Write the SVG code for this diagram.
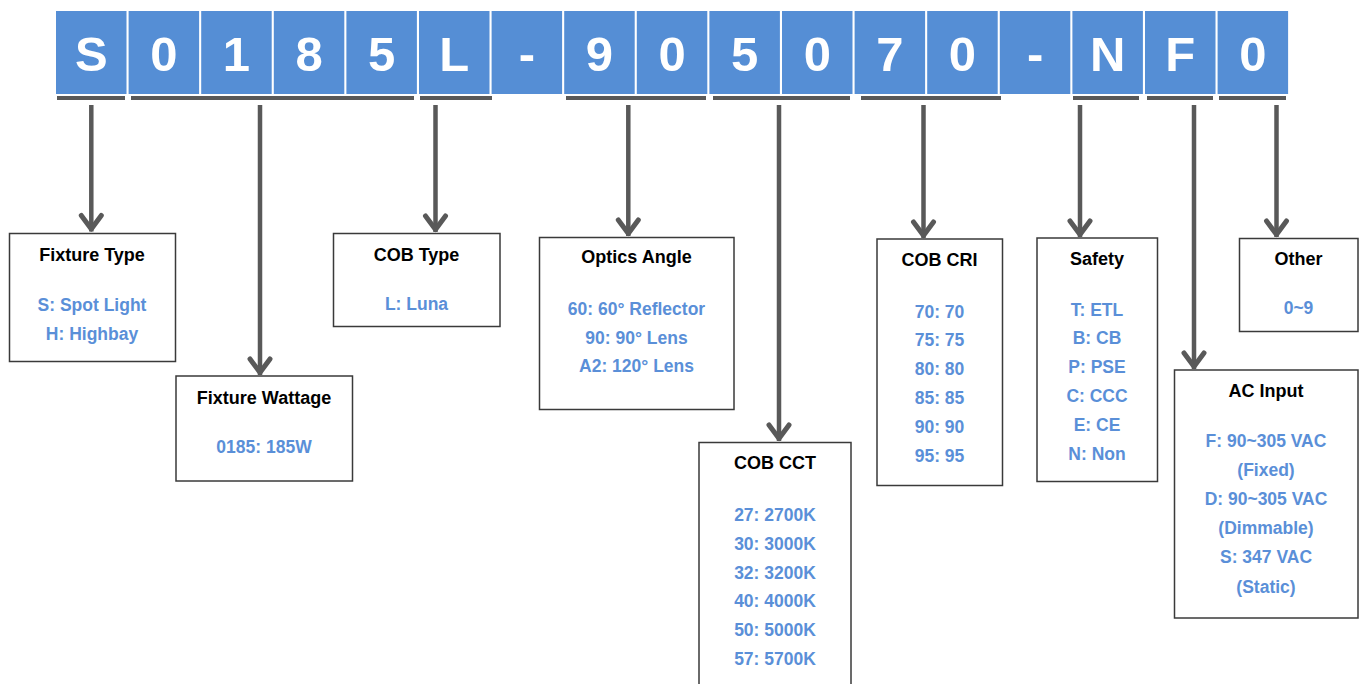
<svg xmlns="http://www.w3.org/2000/svg" width="1359" height="684" viewBox="0 0 1359 684">
<style>
.cell{fill:#558ED5}
.ct{font-family:"Liberation Sans",Arial,sans-serif;font-weight:bold;font-size:49px;fill:#fff;text-anchor:middle}
.bar{fill:#595959}
.box{fill:#fff;stroke:#3a3a3a;stroke-width:1.5}
.tt{font-family:"Liberation Sans",Arial,sans-serif;font-weight:bold;font-size:18px;fill:#000;text-anchor:middle}
.bt{font-family:"Liberation Sans",Arial,sans-serif;font-weight:bold;font-size:17.5px;fill:#5A8FD8;text-anchor:middle}
.arr{fill:none;stroke:#595959;stroke-width:4.5;marker-end:url(#ah)}
</style>
<defs>
<marker id="ah" markerUnits="userSpaceOnUse" markerWidth="30" markerHeight="30" viewBox="-20 -15 30 30" refX="0" refY="0" orient="auto" overflow="visible">
<path d="M-16,-10 L-2.5,0 L-16,10" fill="none" stroke="#595959" stroke-width="5" stroke-linejoin="round" stroke-linecap="round"/>
</marker>
</defs>
<rect width="1359" height="684" fill="#fff"/>
<g id="code">
<rect class="cell" x="56" y="11" width="70.5" height="83"/>
<rect class="cell" x="128.6" y="11" width="70.5" height="83"/>
<rect class="cell" x="201.2" y="11" width="70.5" height="83"/>
<rect class="cell" x="273.8" y="11" width="70.5" height="83"/>
<rect class="cell" x="346.4" y="11" width="70.5" height="83"/>
<rect class="cell" x="419" y="11" width="70.5" height="83"/>
<rect class="cell" x="491.6" y="11" width="70.5" height="83"/>
<rect class="cell" x="564.2" y="11" width="70.5" height="83"/>
<rect class="cell" x="636.8" y="11" width="70.5" height="83"/>
<rect class="cell" x="709.4" y="11" width="70.5" height="83"/>
<rect class="cell" x="782" y="11" width="70.5" height="83"/>
<rect class="cell" x="854.6" y="11" width="70.5" height="83"/>
<rect class="cell" x="927.2" y="11" width="70.5" height="83"/>
<rect class="cell" x="999.8" y="11" width="70.5" height="83"/>
<rect class="cell" x="1072.4" y="11" width="70.5" height="83"/>
<rect class="cell" x="1145" y="11" width="70.5" height="83"/>
<rect class="cell" x="1217.6" y="11" width="70.5" height="83"/>
<text class="ct" x="91.3" y="70.5">S</text>
<text class="ct" x="163.9" y="70.5">0</text>
<text class="ct" x="236.5" y="70.5">1</text>
<text class="ct" x="309.1" y="70.5">8</text>
<text class="ct" x="381.7" y="70.5">5</text>
<text class="ct" x="454.3" y="70.5">L</text>
<text class="ct" x="526.9" y="70.5">-</text>
<text class="ct" x="599.5" y="70.5">9</text>
<text class="ct" x="672.1" y="70.5">0</text>
<text class="ct" x="744.7" y="70.5">5</text>
<text class="ct" x="817.3" y="70.5">0</text>
<text class="ct" x="889.9" y="70.5">7</text>
<text class="ct" x="962.5" y="70.5">0</text>
<text class="ct" x="1035.1" y="70.5">-</text>
<text class="ct" x="1107.7" y="70.5">N</text>
<text class="ct" x="1180.3" y="70.5">F</text>
<text class="ct" x="1252.9" y="70.5">0</text>
</g>
<g id="brackets">
<rect class="bar" x="57" y="96" width="68" height="4"/>
<rect class="bar" x="131" y="96" width="283" height="4"/>
<rect class="bar" x="420" y="96" width="72" height="4"/>
<rect class="bar" x="566" y="96" width="140" height="4"/>
<rect class="bar" x="713" y="96" width="137" height="4"/>
<rect class="bar" x="861" y="96" width="140" height="4"/>
<rect class="bar" x="1073" y="96" width="66" height="4"/>
<rect class="bar" x="1147" y="96" width="66" height="4"/>
<rect class="bar" x="1219" y="96" width="67" height="4"/>
</g>
<g id="connectors">
<path class="arr" d="M91.3,105 V231.5"/>
<path class="arr" d="M260,105 V375"/>
<path class="arr" d="M435.5,105 V232"/>
<path class="arr" d="M628.3,105 V236"/>
<path class="arr" d="M779,105 V441"/>
<path class="arr" d="M923.5,105 V238"/>
<path class="arr" d="M1080,105 V237"/>
<path class="arr" d="M1194,105 V369"/>
<path class="arr" d="M1276.5,105 V237"/>
</g>
<g id="fixture-type">
<rect class="box" x="9.5" y="233.5" width="166" height="128"/>
<text class="tt" x="92" y="261">Fixture Type</text>
<text class="bt" x="92" y="311">S: Spot Light</text>
<text class="bt" x="92" y="339.5">H: Highbay</text>
</g>
<g id="fixture-wattage">
<rect class="box" x="176" y="376" width="176.5" height="105"/>
<text class="tt" x="264" y="403.5">Fixture Wattage</text>
<text class="bt" x="264" y="452.5">0185: 185W</text>
</g>
<g id="cob-type">
<rect class="box" x="333.5" y="233.5" width="166.5" height="93"/>
<text class="tt" x="416.5" y="261">COB Type</text>
<text class="bt" x="416.5" y="310">L: Luna</text>
</g>
<g id="optics-angle">
<rect class="box" x="539.5" y="237.5" width="194.5" height="172"/>
<text class="tt" x="636.5" y="263">Optics Angle</text>
<text class="bt" x="636.5" y="314.5">60: 60° Reflector</text>
<text class="bt" x="636.5" y="343.5">90: 90° Lens</text>
<text class="bt" x="636.5" y="372">A2: 120° Lens</text>
</g>
<g id="cob-cct">
<rect class="box" x="699" y="442.5" width="152" height="250"/>
<text class="tt" x="775" y="469">COB CCT</text>
<text class="bt" x="775" y="520.5">27: 2700K</text>
<text class="bt" x="775" y="549.5">30: 3000K</text>
<text class="bt" x="775" y="578.5">32: 3200K</text>
<text class="bt" x="775" y="607">40: 4000K</text>
<text class="bt" x="775" y="636">50: 5000K</text>
<text class="bt" x="775" y="664.5">57: 5700K</text>
</g>
<g id="cob-cri">
<rect class="box" x="877" y="239" width="125.5" height="246.5"/>
<text class="tt" x="939.5" y="266">COB CRI</text>
<text class="bt" x="939.5" y="317.5">70: 70</text>
<text class="bt" x="939.5" y="346">75: 75</text>
<text class="bt" x="939.5" y="375">80: 80</text>
<text class="bt" x="939.5" y="404">85: 85</text>
<text class="bt" x="939.5" y="433">90: 90</text>
<text class="bt" x="939.5" y="461.5">95: 95</text>
</g>
<g id="safety">
<rect class="box" x="1037" y="238" width="120.5" height="243.5"/>
<text class="tt" x="1097" y="265">Safety</text>
<text class="bt" x="1097" y="315.5">T: ETL</text>
<text class="bt" x="1097" y="344">B: CB</text>
<text class="bt" x="1097" y="373">P: PSE</text>
<text class="bt" x="1097" y="401.5">C: CCC</text>
<text class="bt" x="1097" y="430.5">E: CE</text>
<text class="bt" x="1097" y="459.5">N: Non</text>
</g>
<g id="other">
<rect class="box" x="1239.5" y="238.5" width="118.5" height="93"/>
<text class="tt" x="1298.5" y="265">Other</text>
<text class="bt" x="1298.5" y="314">0~9</text>
</g>
<g id="ac-input">
<rect class="box" x="1174.5" y="370" width="183.5" height="248"/>
<text class="tt" x="1266" y="397">AC Input</text>
<text class="bt" x="1266" y="446.5">F: 90~305 VAC</text>
<text class="bt" x="1266" y="475.5">(Fixed)</text>
<text class="bt" x="1266" y="505">D: 90~305 VAC</text>
<text class="bt" x="1266" y="534">(Dimmable)</text>
<text class="bt" x="1266" y="563">S: 347 VAC</text>
<text class="bt" x="1266" y="592.5">(Static)</text>
</g>
</svg>
